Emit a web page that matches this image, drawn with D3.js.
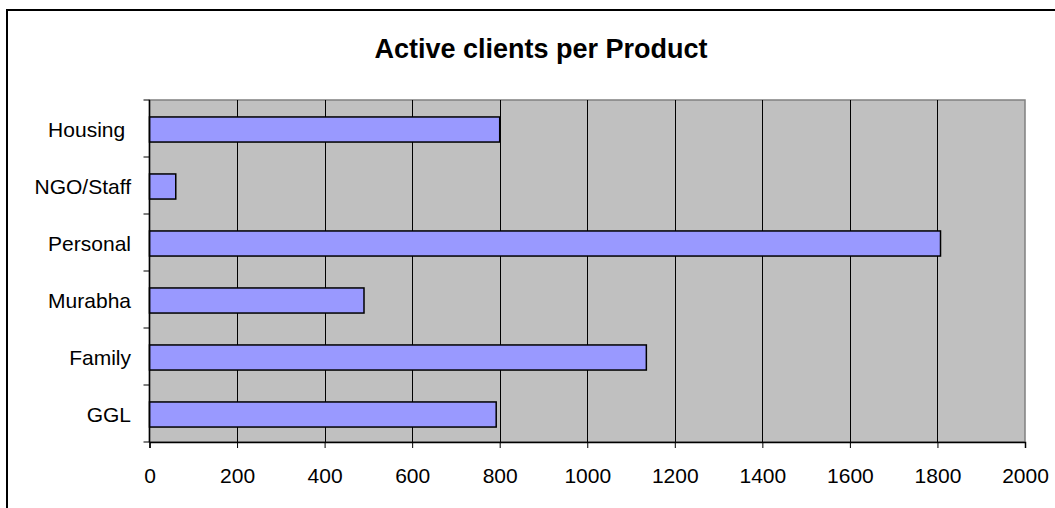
<!DOCTYPE html>
<html><head><meta charset="utf-8">
<script src="https://d3js.org/d3.v7.min.js"></script>
<style>body{margin:0;background:#fff}svg{display:block;font-family:"Liberation Sans",Arial,sans-serif}text{white-space:pre}</style>
</head><body><svg id="c" width="1055" height="508"></svg>
<script>
const categories = ["Housing ", "NGO/Staff", "Personal", "Murabha", "Family", "GGL"];
const values = [800, 60, 1807, 490, 1135, 792];
const xTicks = [0, 200, 400, 600, 800, 1000, 1200, 1400, 1600, 1800, 2000];
const title = "Active clients per Product";

const svg = d3.select("#c");
const L = 149.5, R = 1025, T = 100, B = 442;
svg.append("rect").attr("x", 7).attr("y", 10).attr("width", 1060).attr("height", 520)
  .attr("fill", "#fff").attr("stroke", "#000").attr("stroke-width", 2);

const x = d3.scaleLinear().domain([0, 2000]).range([L, R]);
const y = d3.scaleBand().domain(categories).range([T, B]).paddingInner(0.56).paddingOuter(0.28);

svg.append("rect").attr("x", L).attr("y", T).attr("width", R - L).attr("height", B - T)
  .attr("fill", "#c0c0c0").attr("stroke", "#808080").attr("stroke-width", 1.5);

svg.append("g").selectAll("line").data(xTicks.slice(1, -1)).join("line")
  .attr("x1", d => Math.round(x(d)) + 0.5).attr("x2", d => Math.round(x(d)) + 0.5)
  .attr("y1", T).attr("y2", B).attr("stroke", "#000").attr("stroke-width", 1);

svg.append("g").selectAll("rect").data(categories).join("rect")
  .attr("x", x(0)).attr("y", d => y(d) + 1)
  .attr("width", (d, i) => x(values[i]) - x(0)).attr("height", y.bandwidth())
  .attr("fill", "#9999ff").attr("stroke", "#000").attr("stroke-width", 1.5);

const xa = svg.append("g").attr("transform", `translate(0,${B})`)
  .call(d3.axisBottom(x).tickValues(xTicks).tickFormat(d3.format("d")).tickSize(6).tickPadding(20));
xa.select(".domain").attr("stroke", "#000").attr("stroke-width", 1.5);
xa.selectAll(".tick line").attr("stroke", "#000");
xa.selectAll("text").attr("font-size", 21).attr("fill", "#000").attr("font-family", "Liberation Sans, Arial, sans-serif");

// y axis with ticks at band boundaries
const bounds = d3.range(categories.length + 1).map(i => T + i * (B - T) / categories.length);
const ya = svg.append("g");
ya.append("line").attr("x1", L).attr("x2", L).attr("y1", T).attr("y2", B).attr("stroke", "#000").attr("stroke-width", 1.5);
ya.selectAll("line.t").data(bounds).join("line").attr("class", "t")
  .attr("x1", L - 6).attr("x2", L).attr("y1", d => d).attr("y2", d => d).attr("stroke", "#000");
ya.selectAll("text").data(categories).join("text")
  .attr("x", 131).attr("y", d => y(d) + 1 + y.bandwidth() / 2).attr("dy", "0.35em")
  .attr("text-anchor", "end").attr("font-size", 21).attr("fill", "#000").text(d => d);

svg.append("text").attr("x", 541).attr("y", 58).attr("text-anchor", "middle")
  .attr("font-size", 27).attr("font-weight", "bold").attr("fill", "#000").text(title);
</script></body></html>
